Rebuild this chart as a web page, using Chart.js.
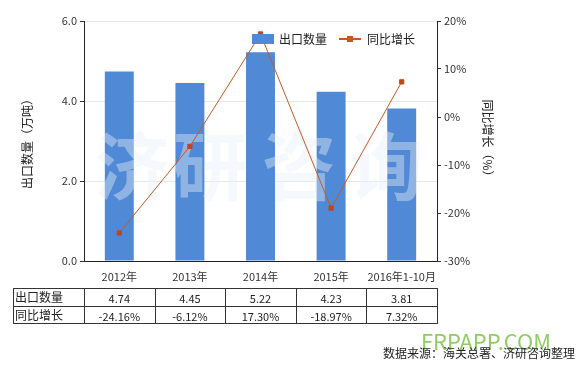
<!DOCTYPE html>
<html>
<head>
<meta charset="utf-8">
<script src="https://cdn.jsdelivr.net/npm/chart.js@4"></script>
<style>
  html, body { margin: 0; padding: 0; background: #fff; }
  #wrap { width: 579px; height: 365px; }
</style>
</head>
<body>
<div id="wrap"><canvas id="grafico"></canvas></div>
<script>
const categorias = ['2012年', '2013年', '2014年', '2015年', '2016年1-10月'];
const exportQty = [4.74, 4.45, 5.22, 4.23, 3.81];
const yoyGrowth = [-24.16, -6.12, 17.30, -18.97, 7.32];
const qtyLabels = ['4.74', '4.45', '5.22', '4.23', '3.81'];
const growthLabels = ['-24.16%', '-6.12%', '17.30%', '-18.97%', '7.32%'];
const rowLabels = ['出口数量', '同比增长'];
const seriesNames = ['出口数量', '同比增长'];

const fuente = "'Noto Sans CJK SC', 'Microsoft YaHei', sans-serif";
const azul = '#5089D5';
const naranja = '#C65A24';

// marca de agua, leyenda, tabla y pie
const extras = {
  id: 'extras',
  afterDatasetDraw(chart, args) {
    if (args.meta.type !== 'bar') return;
    const ctx = chart.ctx;
    ctx.save();
    ctx.font = 'bold 74px ' + fuente;
    ctx.fillStyle = 'rgba(232,238,248,0.42)';
    ctx.textAlign = 'center';
    ctx.textBaseline = 'middle';
    const chars = ['济', '研', '咨', '询'];
    const xs = [132, 210, 299, 386];
    chars.forEach((c, i) => ctx.fillText(c, xs[i], 166));
    ctx.restore();
  },
  afterDraw(chart) {
    const ctx = chart.ctx;
    const area = chart.chartArea;
    const xScale = chart.scales.x;
    ctx.save();

    // leyenda
    ctx.font = '12px ' + fuente;
    ctx.textBaseline = 'middle';
    ctx.fillStyle = azul;
    ctx.fillRect(252, 34, 22, 10);
    ctx.fillStyle = '#222';
    ctx.textAlign = 'left';
    ctx.fillText(seriesNames[0], 279, 39);
    ctx.strokeStyle = naranja;
    ctx.lineWidth = 2;
    ctx.beginPath();
    ctx.moveTo(339, 39);
    ctx.lineTo(361, 39);
    ctx.stroke();
    ctx.fillStyle = naranja;
    ctx.fillRect(347, 36, 6, 6);
    ctx.fillStyle = '#222';
    ctx.fillText(seriesNames[1], 367, 39);

    // tabla
    const top = 288, mid = 306, bottom = 323, left = 13;
    ctx.strokeStyle = '#333';
    ctx.lineWidth = 1;
    ctx.beginPath();
    [top, mid, bottom].forEach(y => {
      ctx.moveTo(left, y + 0.5);
      ctx.lineTo(area.right + 0.5, y + 0.5);
    });
    const bordes = [left];
    const ancho = (area.right - area.left) / categorias.length;
    for (let i = 0; i <= categorias.length; i++) bordes.push(area.left + i * ancho);
    bordes.forEach(x => {
      ctx.moveTo(Math.round(x) + 0.5, top);
      ctx.lineTo(Math.round(x) + 0.5, bottom + 1);
    });
    ctx.stroke();

    ctx.fillStyle = '#222';
    ctx.font = '12px ' + fuente;
    ctx.textAlign = 'left';
    ctx.fillText(rowLabels[0], 15, (top + mid) / 2);
    ctx.fillText(rowLabels[1], 15, (mid + bottom) / 2 + 1);
    ctx.textAlign = 'center';
    ctx.font = '11px ' + fuente;
    categorias.forEach((c, i) => {
      const x = xScale.getPixelForValue(i);
      ctx.fillText(qtyLabels[i], x, (top + mid) / 2 + 2);
      ctx.fillText(growthLabels[i], x, (mid + bottom) / 2 + 2);
    });

    // pie
    ctx.font = '22px ' + fuente;
    ctx.fillStyle = 'rgba(125,195,70,0.85)';
    ctx.textAlign = 'left';
    ctx.fillText('FRPAPP.COM', 421, 342, 130);
    ctx.font = '12px ' + fuente;
    ctx.fillStyle = '#222';
    ctx.textAlign = 'right';
    ctx.fillText('数据来源：海关总署、济研咨询整理', 575, 353);
    ctx.restore();
  }
};

new Chart(document.getElementById('grafico'), {
  type: 'bar',
  data: {
    labels: categorias,
    datasets: [{
      type: 'line',
      label: seriesNames[1],
      data: yoyGrowth,
      yAxisID: 'y1',
      borderColor: naranja,
      borderWidth: 1,
      pointStyle: 'rect',
      pointRadius: 3,
      pointBackgroundColor: '#C0461B',
      pointBorderColor: '#C0461B',
      tension: 0,
      order: 1
    }, {
      type: 'bar',
      label: seriesNames[0],
      data: exportQty,
      yAxisID: 'y',
      backgroundColor: azul,
      categoryPercentage: 1,
      barPercentage: 0.41,
      order: 2
    }]
  },
  options: {
    responsive: true,
    maintainAspectRatio: false,
    animation: false,
    layout: {
      padding: { top: 21, left: 0, right: 0, bottom: 0 }
    },
    plugins: {
      legend: { display: false },
      tooltip: { enabled: false }
    },
    scales: {
      x: {
        grid: { display: false, drawTicks: false },
        border: { color: '#222' },
        ticks: {
          padding: 9,
          maxRotation: 0,
          minRotation: 0,
          autoSkip: false,
          color: '#333',
          font: { size: 11, family: fuente }
        },
        afterFit: (escala) => { escala.height = 104; }
      },
      y: {
        position: 'left',
        min: 0,
        max: 6,
        ticks: {
          stepSize: 2,
          padding: 3,
          color: '#333',
          font: { size: 11, family: fuente },
          callback: (v) => v.toFixed(1)
        },
        grid: { color: '#E8E8E8', tickColor: '#333', tickLength: 4 },
        border: { color: '#222' },
        title: {
          display: true,
          text: '出口数量（万吨）',
          color: '#222',
          font: { size: 12, family: fuente },
          padding: { top: 20, bottom: 0 }
        },
        afterFit: (escala) => { escala.width = 84; }
      },
      y1: {
        position: 'right',
        min: -30,
        max: 20,
        ticks: {
          stepSize: 10,
          padding: 3,
          color: '#333',
          font: { size: 11, family: fuente },
          callback: (v) => v + '%'
        },
        grid: { drawOnChartArea: false, tickColor: '#333', tickLength: 4 },
        border: { color: '#222' },
        title: {
          display: true,
          text: '同比增长（%）',
          color: '#222',
          font: { size: 12, family: fuente },
          padding: { top: 84, bottom: 0 }
        },
        afterFit: (escala) => { escala.width = 142; }
      }
    }
  },
  plugins: [extras]
});
</script>
</body>
</html>
